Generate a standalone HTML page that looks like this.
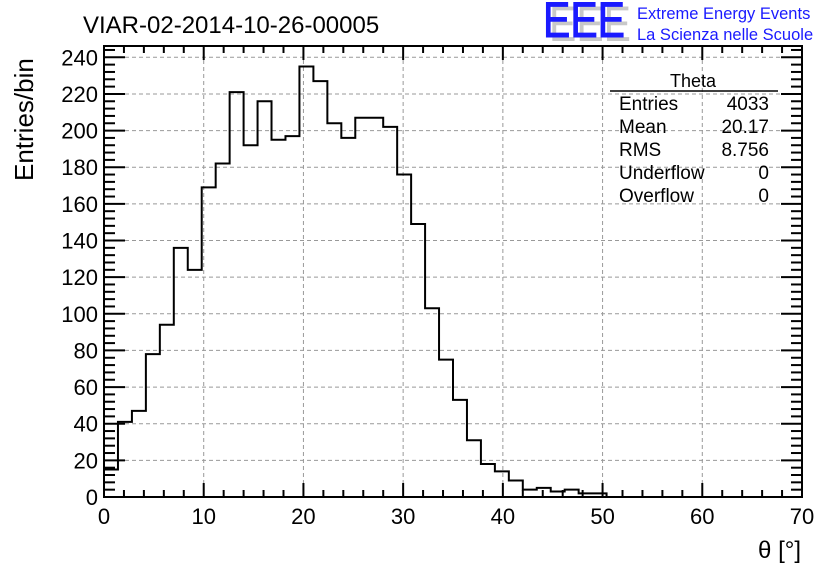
<!DOCTYPE html>
<html><head><meta charset="utf-8"><style>
body{margin:0;background:#fff;}
svg{display:block;font-family:"Liberation Sans",Arial,sans-serif;}
</style></head><body>
<svg id="c" width="836" height="572" viewBox="0 0 836 572">
<rect width="836" height="572" fill="#fff"/>
<text x="83" y="33" font-size="24">VIAR-02-2014-10-26-00005</text>
<g>
<text x="549" y="41" font-size="50" fill="#c8c8c8" textLength="82" lengthAdjust="spacingAndGlyphs">EEE</text>
<text x="543" y="37" font-size="50" fill="#1a1aff" stroke="#1a1aff" stroke-width="1" textLength="82" lengthAdjust="spacingAndGlyphs">EEE</text>
<text x="637" y="19" font-size="16.5" fill="#1a1aff">Extreme Energy Events</text>
<text x="637" y="40" font-size="16.5" fill="#1a1aff">La Scienza nelle Scuole</text>
</g>
<g id="grid"></g>
<g id="ticks"></g>
<path id="hist" fill="none" stroke="#000" stroke-width="2"/>
<rect x="104" y="46" width="698" height="451" fill="none" stroke="#000" stroke-width="2"/>
<g id="labels" font-size="22"></g>
<text x="801" y="558" font-size="24" text-anchor="end">θ [°]</text>
<text transform="translate(33,181) rotate(-90)" font-size="26" text-anchor="start">Entries/bin</text>
<g font-size="19">
<text x="693" y="87" text-anchor="middle" font-size="18">Theta</text>
<line x1="610" y1="91" x2="778" y2="91" stroke="#000" stroke-width="1.5"/>
<text x="619" y="110">Entries</text><text x="769" y="110" text-anchor="end">4033</text>
<text x="619" y="133">Mean</text><text x="769" y="133" text-anchor="end">20.17</text>
<text x="619" y="156">RMS</text><text x="769" y="156" text-anchor="end">8.756</text>
<text x="619" y="179">Underflow</text><text x="769" y="179" text-anchor="end">0</text>
<text x="619" y="202">Overflow</text><text x="769" y="202" text-anchor="end">0</text>
</g>
</svg>
<script>
const binWidth = 1.4;
const counts = [15,41,47,78,94,136,124,169,182,221,192,216,195,197,235,227,204,196,207,207,202,176,149,103,75,53,31,18,14,9,4,5,3,4,2,2];
const xTicks = [0,10,20,30,40,50,60,70];
const yTicks = [0,20,40,60,80,100,120,140,160,180,200,220,240];
const X0=104,X1=802,Y0=497,Ytop=46;
const xs = v => X0 + (v/70)*(X1-X0);
const ys = v => Y0 - v*(497-57.3)/240;
const NS="http://www.w3.org/2000/svg";
const grid=document.getElementById('grid'), ticks=document.getElementById('ticks'), labels=document.getElementById('labels');
function ln(p,x1,y1,x2,y2,attrs){const l=document.createElementNS(NS,'line');l.setAttribute('x1',x1);l.setAttribute('y1',y1);l.setAttribute('x2',x2);l.setAttribute('y2',y2);for(const k in attrs)l.setAttribute(k,attrs[k]);p.appendChild(l);return l;}
xTicks.forEach(v=>{
  if(v>0&&v<70){const g=ln(grid,xs(v),Ytop,xs(v),Y0,{stroke:'#999','stroke-dasharray':'4,3','stroke-width':1});
  
  }
  const t=document.createElementNS(NS,'text');t.setAttribute('x',xs(v));t.setAttribute('y',524);t.setAttribute('text-anchor','middle');t.textContent=v;
  
  
  labels.appendChild(t);
});
yTicks.forEach(v=>{
  if(v>0){const g=ln(grid,X0,ys(v),X1,ys(v),{stroke:'#999','stroke-dasharray':'4,3','stroke-width':1});
  
  }
  const t=document.createElementNS(NS,'text');t.setAttribute('x',98);t.setAttribute('y',ys(v)+8);t.setAttribute('text-anchor','end');t.textContent=v;
  
  
  labels.appendChild(t);
});
const ts={stroke:'#000','stroke-width':2};
for(let v=0;v<=70;v+=2){const L=(v%10===0)?14:7;ln(ticks,xs(v),Y0,xs(v),Y0-L,ts);ln(ticks,xs(v),Ytop,xs(v),Ytop+L,ts);}
for(let v=0;v<=244;v+=4){const y=ys(v);if(y<Ytop)continue;const L=(v%20===0)?21:11;ln(ticks,X0,y,X0+L,y,ts);ln(ticks,X1,y,X1-L,y,ts);}
let d='M'+xs(0)+','+Y0;
counts.forEach((c,i)=>{d+=' L'+xs(i*binWidth)+','+ys(c)+' L'+xs((i+1)*binWidth)+','+ys(c);});
d+=' L'+xs(counts.length*binWidth)+','+Y0;
document.getElementById('hist').setAttribute('d',d);
</script>
</body></html>
